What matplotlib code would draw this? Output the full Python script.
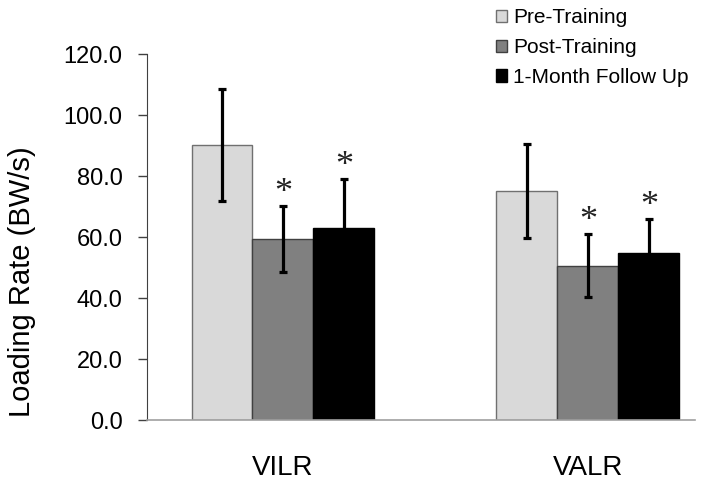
import matplotlib.pyplot as plt
import numpy as np

plt.rcParams['font.family'] = ['Liberation Sans', 'DejaVu Sans']

groups = ["VILR", "VALR"]
series = ["Pre-Training", "Post-Training", "1-Month Follow Up"]
means = {
    "Pre-Training": [90.2, 75.1],
    "Post-Training": [59.3, 50.7],
    "1-Month Follow Up": [62.9, 54.7],
}
errors = {
    "Pre-Training": [18.3, 15.5],
    "Post-Training": [10.8, 10.3],
    "1-Month Follow Up": [16.2, 11.3],
}
significant = {
    "Pre-Training": [False, False],
    "Post-Training": [True, True],
    "1-Month Follow Up": [True, True],
}
yticks = [0, 20, 40, 60, 80, 100, 120]

colors = ["#d9d9d9", "#808080", "#000000"]
edges = ["#707070", "#404040", "#000000"]

fig = plt.figure(figsize=(7.04, 4.82), dpi=100)
ax = fig.add_axes([0.2088, 0.1286, 0.7782, 0.7587])

x = np.arange(len(groups))
width = 0.2
for i, name in enumerate(series):
    pos = x + (i - 1) * width
    ax.bar(pos, means[name], width, color=colors[i], edgecolor=edges[i],
           linewidth=1, label=name, zorder=2)
    ax.errorbar(pos, means[name], yerr=errors[name], fmt="none",
                ecolor="black", elinewidth=2.3, capsize=3, capthick=2.3, zorder=3)
    for p, m, e, s in zip(pos, means[name], errors[name], significant[name]):
        if s:
            # star just above the error bar
            ax.text(p, m + e + 4.2, "*", ha="center", va="center",
                    fontsize=26, family="Liberation Serif", color="#222222")

ax.set_xlim(-0.446, 1.351)
ax.set_ylim(0, 120)
ax.set_yticks(yticks)
ax.set_yticklabels([f"{v:.1f}" for v in yticks], fontsize=17)
ax.set_xticks(x)
ax.set_xticklabels(groups, fontsize=20)
ax.tick_params(axis="x", length=0, pad=25)
ax.tick_params(axis="y", direction="out", length=6.5, width=1, color="#404040", pad=11)
fig.text(22 / 704, 1 - 282 / 482, "Loading Rate (BW/s)", rotation=90,
         ha="center", va="center", fontsize=21)

for side in ["top", "right"]:
    ax.spines[side].set_visible(False)
ax.spines["left"].set_color("#404040")
ax.spines["bottom"].set_color("#a0a0a0")
ax.spines["bottom"].set_linewidth(1.2)

fig.legend(loc="upper left", bbox_to_anchor=(496 / 704, 0.983),
           bbox_transform=fig.transFigure, frameon=False,
           fontsize=15, handlelength=0.53, handleheight=0.53, handletextpad=0.3,
           labelspacing=0.52, borderpad=0, borderaxespad=0)

fig.savefig("out.png", dpi=100)
